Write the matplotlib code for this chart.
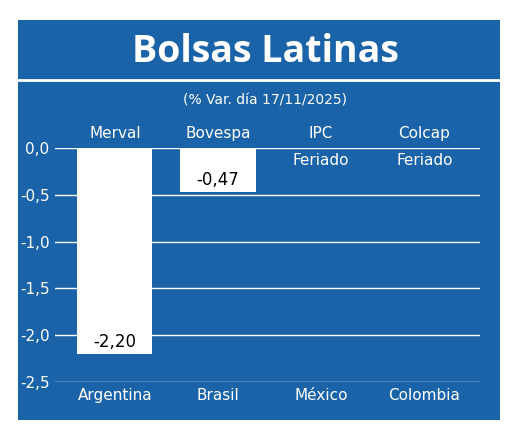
import matplotlib
matplotlib.use("Agg")
import matplotlib.pyplot as plt
from matplotlib.patches import Rectangle

countries = ["Argentina", "Brasil", "México", "Colombia"]
indices = ["Merval", "Bovespa", "IPC", "Colcap"]
values = [-2.20, -0.47, None, None]
yticks = [0.0, -0.5, -1.0, -1.5, -2.0, -2.5]

BLUE = "#1b63a9"
W, H = 520, 443
fig = plt.figure(figsize=(W/100, H/100), dpi=100)
fig.patch.set_facecolor("white")
bg = fig.add_axes([0, 0, 1, 1], zorder=-5)
bg.set_xlim(0, W); bg.set_ylim(H, 0); bg.axis("off")
bg.add_patch(Rectangle((18, 20), 482, 400, facecolor=BLUE, edgecolor="none"))
bg.plot([18, 500], [80, 80], color="white", lw=2)
bg.text(265, 52, "Bolsas Latinas", color="white", fontsize=27, fontweight="bold",
        ha="center", va="center", family="Open Sans")
bg.text(265, 100, "(% Var. día 17/11/2025)", color="white", fontsize=10,
        ha="center", va="center")

ax = fig.add_axes([55/W, 1-382/H, 425/W, 234/H], zorder=1)
ax.set_facecolor("none")
ax.set_xlim(-0.58, 3.54)
ax.set_ylim(-2.5, 0)
for y in yticks:
    ax.axhline(y, color="white", lw=1, zorder=1)
for i, v in enumerate(values):
    if v is not None:
        ax.bar(i, v, width=0.73, color="white", zorder=2, align="center")
        ax.text(i, v + 0.03, f"{v:.2f}".replace(".", ","), ha="center", va="bottom",
                fontsize=12, color="black", zorder=3)
    else:
        ax.text(i, -0.05, "Feriado", ha="center", va="top", fontsize=11, color="white")
    ax.text(i, 0.08, indices[i], ha="center", va="bottom", fontsize=11, color="white")
ax.set_yticks(yticks)
ax.set_yticklabels([f"{t:.1f}".replace(".", ",") for t in yticks], color="white", fontsize=11)
ax.set_xticks(range(4))
ax.set_xticklabels(countries, color="white", fontsize=11)
ax.tick_params(length=0, pad=4)
for s in ax.spines.values():
    s.set_visible(False)
fig.savefig("out.png", dpi=100)
